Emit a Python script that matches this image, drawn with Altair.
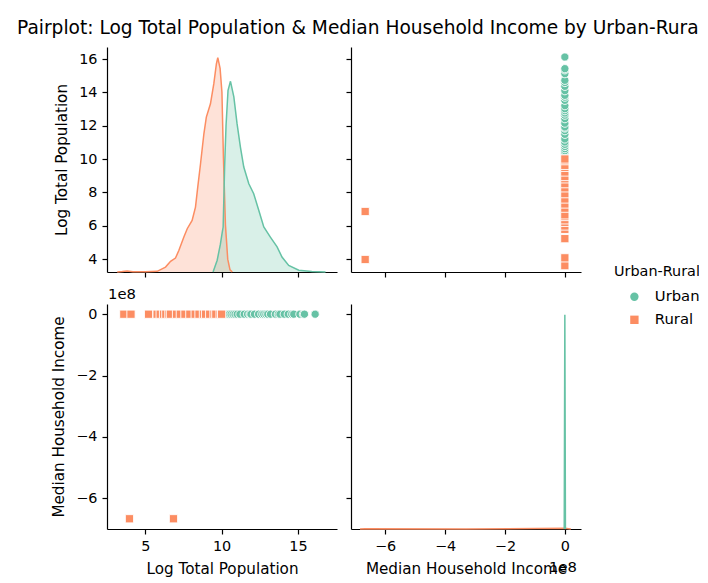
import altair as alt
import pandas as pd

# ---------------- data ----------------
GROUPS = ["Urban", "Rural"]
COLORS = ["#66c2a5", "#fc8d62"]
SHAPES = ["circle", "square"]
TITLE = "Pairplot: Log Total Population & Median Household Income by Urban-Rural"
OFFSET_LABEL = ["1e8"]

urban_logpop = [10.35, 10.42, 10.5, 10.62, 10.75, 10.88, 11.02, 11.2, 11.48, 11.7,
                11.86, 11.92, 12.15, 12.42, 12.63, 12.76, 12.9, 13.02, 13.2, 13.52,
                13.71, 13.82, 14.1, 14.36, 14.59, 14.72, 15.12, 15.35, 15.42, 16.12]
urban_income = [61000, 58000, 66000, 72000, 63000, 69000, 75000, 59000, 81000, 77000,
                70000, 84000, 68000, 90000, 73000, 79000, 86000, 65000, 92000, 71000,
                88000, 76000, 95000, 83000, 99000, 80000, 87000, 102000, 91000, 78000]
rural_logpop = [3.6, 4.07, 5.22, 5.78, 5.98, 6.2, 6.35, 6.55, 6.65, 7.05, 7.3, 7.6,
                7.92, 8.27, 8.52, 8.81, 8.95, 9.22, 9.5, 9.62, 9.9, 10.0, 3.97, 6.85]
rural_income = [42000, 47000, 51000, 45000, 49000, 53000, 44000, 50000, 56000, 48000,
                52000, 46000, 55000, 58000, 50000, 54000, 57000, 53000, 60000, 55000,
                59000, 62000, -666666666, -666666666]

# diagonal KDE curves (relative density)
kde_pop_rural_x = [3.17, 3.5, 3.82, 4.2, 5.0, 5.78, 6.33, 6.66, 6.98, 7.2, 7.53, 7.75,
                   8.07, 8.29, 8.44, 8.62, 8.84, 9.0, 9.27, 9.49, 9.66, 9.75, 9.9,
                   10.02, 10.12, 10.25, 10.4, 10.55, 10.7]
kde_pop_rural_y = [0.0, 0.002, 0.005, 0.0015, 0.0015, 0.003, 0.023, 0.05, 0.065, 0.10,
                   0.163, 0.202, 0.241, 0.303, 0.397, 0.505, 0.645, 0.723, 0.785, 0.879,
                   0.972, 1.0, 0.95, 0.84, 0.53, 0.22, 0.06, 0.01, 0.0]
kde_pop_urban_x = [9.44, 9.71, 9.92, 10.03, 10.1, 10.2, 10.29, 10.42, 10.58, 10.8,
                   11.01, 11.23, 11.45, 11.78, 12.1, 12.43, 12.76, 13.19, 13.63, 13.95,
                   14.39, 15.05, 15.9, 16.8]
kde_pop_urban_y = [0.0, 0.055, 0.13, 0.18, 0.21, 0.50, 0.685, 0.848, 0.89, 0.817,
                   0.692, 0.583, 0.49, 0.412, 0.365, 0.288, 0.21, 0.163, 0.117, 0.07,
                   0.031, 0.008, 0.002, 0.0]
kde_inc_urban_x = [-2.0e6, 6.0e4, 2.0e6]
kde_inc_urban_y = [0.0, 1.0, 0.0]
kde_inc_rural_x = [-6.84e8, -6.67e8, -3.3e8, 0.0, 0.2e8]
kde_inc_rural_y = [0.0, 0.001, 0.0005, 0.003, 0.0]

POP_TICKS = [4, 6, 8, 10, 12, 14, 16]
POP_X_TICKS = [5, 10, 15]
INC_TICKS = [-6e8, -4e8, -2e8, 0]

POP_Y_DOM = [3.22, 16.72]
POP_X_DOM = [2.5, 17.55]
INC_X_DOM = [-7.14e8, 0.54e8]
INC_Y_DOM = [-7.0e8, 0.333e8]
DENS_DOM = [0, 1.05]

# ---------------- tables ----------------
scatter = pd.DataFrame({
    "logpop": urban_logpop + rural_logpop,
    "income": urban_income + rural_income,
    "group": ["Urban"] * len(urban_logpop) + ["Rural"] * len(rural_logpop),
})
kde_pop = pd.DataFrame({
    "logpop": kde_pop_rural_x + kde_pop_urban_x,
    "density": kde_pop_rural_y + kde_pop_urban_y,
    "group": ["Rural"] * len(kde_pop_rural_x) + ["Urban"] * len(kde_pop_urban_x),
})
kde_inc = pd.DataFrame({
    "income": kde_inc_rural_x + kde_inc_urban_x,
    "density": kde_inc_rural_y + kde_inc_urban_y,
    "group": ["Rural"] * len(kde_inc_rural_x) + ["Urban"] * len(kde_inc_urban_x),
})
offset_df = pd.DataFrame({"t": OFFSET_LABEL})

W, H = 230, 225
FONT = "DejaVu Sans"
INC_LABEL = "format(datum.value / 1e8, 'd')"

color_scale = alt.Scale(domain=GROUPS, range=COLORS)
shape_scale = alt.Scale(domain=GROUPS, range=SHAPES)
legend = alt.Legend(
    title="Urban-Rural", orient="none", legendX=507, legendY=218, padding=0,
    titleFont=FONT, labelFont=FONT, titleFontSize=14.4, labelFontSize=14.8,
    titleFontWeight="normal", titleColor="black", labelColor="black",
    symbolSize=70, symbolOffset=13, labelOffset=13, rowPadding=7, titlePadding=10,
    symbolStrokeWidth=0,
)


def axis(values, labels=False, title=None, expr=None):
    kw = dict(values=values, labels=labels, title=title)
    if expr:
        kw["labelExpr"] = expr
    return alt.Axis(**kw)


def xpop(labels=False, title=None):
    return alt.X("logpop:Q", scale=alt.Scale(domain=POP_X_DOM, nice=False, zero=False),
                 axis=axis(POP_X_TICKS, labels, title))


def ypop(labels=False, title=None):
    return alt.Y("logpop:Q", scale=alt.Scale(domain=POP_Y_DOM, nice=False, zero=False),
                 axis=axis(POP_TICKS, labels, title))


def xinc(labels=False, title=None):
    return alt.X("income:Q", scale=alt.Scale(domain=INC_X_DOM, nice=False, zero=False),
                 axis=axis(INC_TICKS, labels, title, INC_LABEL))


def yinc(labels=False, title=None):
    return alt.Y("income:Q", scale=alt.Scale(domain=INC_Y_DOM, nice=False, zero=False),
                 axis=axis(INC_TICKS, labels, title, INC_LABEL))


dens_y = alt.Y("density:Q", scale=alt.Scale(domain=DENS_DOM, nice=False), axis=None)


def points(x, y):
    return alt.Chart(scatter).mark_point(filled=True, size=68, opacity=1, stroke="white",
                                         strokeWidth=0.9).encode(
        x=x, y=y,
        color=alt.Color("group:N", scale=color_scale, legend=legend),
        shape=alt.Shape("group:N", scale=shape_scale, legend=legend))


def kde(df, x):
    layers = []
    for grp, col in [("Rural", COLORS[1]), ("Urban", COLORS[0])]:
        base = alt.Chart(df).transform_filter(alt.datum.group == grp)
        layers.append(base.mark_area(opacity=0.25, color=col).encode(x=x, y=dens_y))
    for grp, col in [("Rural", COLORS[1]), ("Urban", COLORS[0])]:
        base = alt.Chart(df).transform_filter(alt.datum.group == grp)
        layers.append(base.mark_line(strokeWidth=1.5, color=col).encode(x=x, y=dens_y))
    return layers


# panel 1 : KDE of log population
carrier1 = alt.Chart(scatter).mark_point(opacity=0).encode(
    x=xpop(), y=ypop(True, "Log Total Population"))
p1 = alt.layer(carrier1, *kde(kde_pop, xpop())).resolve_scale(y="independent").properties(
    width=W, height=H)

# panel 2 : income vs log population
p2 = points(xinc(), ypop()).properties(width=W, height=H)

# panel 3 : log population vs income
off3 = alt.Chart(offset_df).mark_text(align="left", baseline="alphabetic", fontSize=14.8,
                                      font=FONT, color="black").encode(
    text="t:N", x=alt.value(1), y=alt.value(-5))
p3 = alt.layer(points(xpop(True, "Log Total Population"),
                      yinc(True, "Median Household Income")), off3).properties(width=W, height=H)

# panel 4 : KDE of income
carrier4 = alt.Chart(scatter).mark_point(opacity=0).encode(
    x=xinc(True, "Median Household Income"), y=yinc())
off4 = alt.Chart(offset_df).mark_text(align="right", baseline="alphabetic", fontSize=14.8,
                                      font=FONT, color="black").encode(
    text="t:N", x=alt.value(226), y=alt.value(H + 43))
p4 = alt.layer(carrier4, *kde(kde_inc, xinc(True, "Median Household Income")), off4).resolve_scale(
    y="independent").properties(width=W, height=H)

chart = alt.concat(p1, p2, p3, p4, columns=2).properties(
    spacing={"row": 32, "column": 14},
    bounds="flush",
    padding={"left": 9, "top": 11, "right": -5, "bottom": 0},
    title=alt.TitleParams(TITLE, anchor="start", frame="group", dx=-90, offset=9,
                          fontSize=18.6, font=FONT, fontWeight="normal", color="black"),
).configure_view(stroke=None).configure_axis(
    grid=False, domainColor="black", domainWidth=1.2, tickColor="black", tickWidth=1.2,
    tickSize=5, labelColor="black", titleColor="black", labelFont=FONT, titleFont=FONT,
    labelFontSize=14.4, titleFontSize=15.2, titleFontWeight="normal", labelPadding=5,
    titlePadding=9, labelFlush=False, labelOverlap=False,
)

chart.save("out.html", embed_options={"renderer": "svg", "actions": False})
